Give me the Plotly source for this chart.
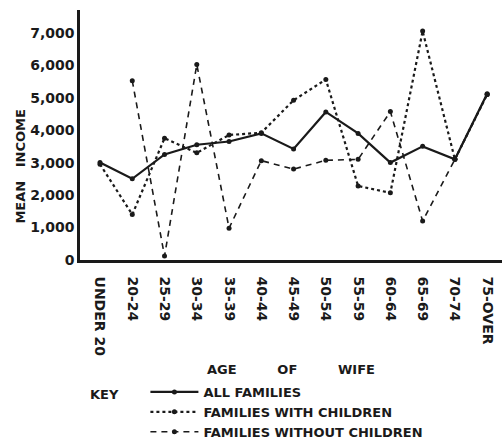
import plotly.graph_objects as go

ages = ["UNDER 20", "20-24", "25-29", "30-34", "35-39", "40-44", "45-49",
        "50-54", "55-59", "60-64", "65-69", "70-74", "75-OVER"]
all_families = [3000, 2500, 3250, 3550, 3650, 3900, 3420, 4560, 3900, 3000, 3500, 3100, 5120]
with_children = [2950, 1400, 3750, 3300, 3850, 3920, 4920, 5560, 2280, 2070, 7050, 3100, 5100]
without_children = [None, 5520, 120, 6020, 980, 3060, 2800, 3070, 3100, 4570, 1200, 3100, 5100]
y_ticks = [0, 1000, 2000, 3000, 4000, 5000, 6000, 7000]

FONT = "DejaVu Sans"
INK = "#1a1a1a"
xs = list(range(len(ages)))

fig = go.Figure()
fig.add_trace(go.Scatter(x=xs, y=all_families, name="ALL FAMILIES", mode="lines+markers",
                         line=dict(color=INK, width=2.2, dash="solid"),
                         marker=dict(size=5, color=INK)))
fig.add_trace(go.Scatter(x=xs, y=with_children, name="FAMILIES WITH CHILDREN", mode="lines+markers",
                         line=dict(color=INK, width=2.2, dash="dot"),
                         marker=dict(size=5, color=INK)))
fig.add_trace(go.Scatter(x=xs, y=without_children, name="FAMILIES WITHOUT CHILDREN", mode="lines+markers",
                         line=dict(color=INK, width=1.6, dash="6px,5px"),
                         marker=dict(size=5, color=INK), connectgaps=False))

fig.update_layout(
    width=502, height=441,
    margin=dict(l=80, r=0, t=10, b=181, autoexpand=False),
    paper_bgcolor="white", plot_bgcolor="white",
    font=dict(family=FONT, color=INK, size=13, weight="bold"),
    showlegend=True,
    legend=dict(x=0.155, xanchor="left", y=-0.468, yanchor="top",
                font=dict(family=FONT, size=13, color=INK, weight="bold"),
                itemwidth=48, bgcolor="rgba(0,0,0,0)", borderwidth=0),
    xaxis=dict(range=[-0.62, 12.46], tickmode="array", tickvals=xs, ticktext=ages,
               tickangle=90, showgrid=False, zeroline=False, showline=True, automargin=False,
               linecolor=INK, linewidth=2.5, ticks="", ticklabelstandoff=11,
               tickfont=dict(family=FONT, size=14, color=INK, weight="bold"),
               title=dict(text="AGE" + "\u00a0" * 9 + "OF" + "\u00a0" * 9 + "WIFE",
                          font=dict(family=FONT, size=13, color=INK, weight="bold"),
                          standoff=10)),
    yaxis=dict(range=[0, 7700], tickmode="array", tickvals=y_ticks, tickformat=",",
               showgrid=False, zeroline=False, showline=True, linecolor=INK, linewidth=2.5,
               automargin=False,
               ticks="", tickfont=dict(family=FONT, size=14, color=INK, weight="bold")),
    annotations=[
        dict(text="MEAN" + "\u00a0" * 3 + "INCOME", xref="paper", yref="paper",
             x=-0.142, y=0.374, xanchor="center", yanchor="middle", textangle=-90,
             showarrow=False, font=dict(family=FONT, size=13, color=INK, weight="bold")),
        dict(text="KEY", xref="paper", yref="paper", x=0.057, y=-0.536,
             xanchor="center", yanchor="middle",
             showarrow=False, font=dict(family=FONT, size=13, color=INK, weight="bold")),
    ],
)

fig.write_html("out.html", config={"displayModeBar": False},
               post_script="document.body.style.margin='0';")
